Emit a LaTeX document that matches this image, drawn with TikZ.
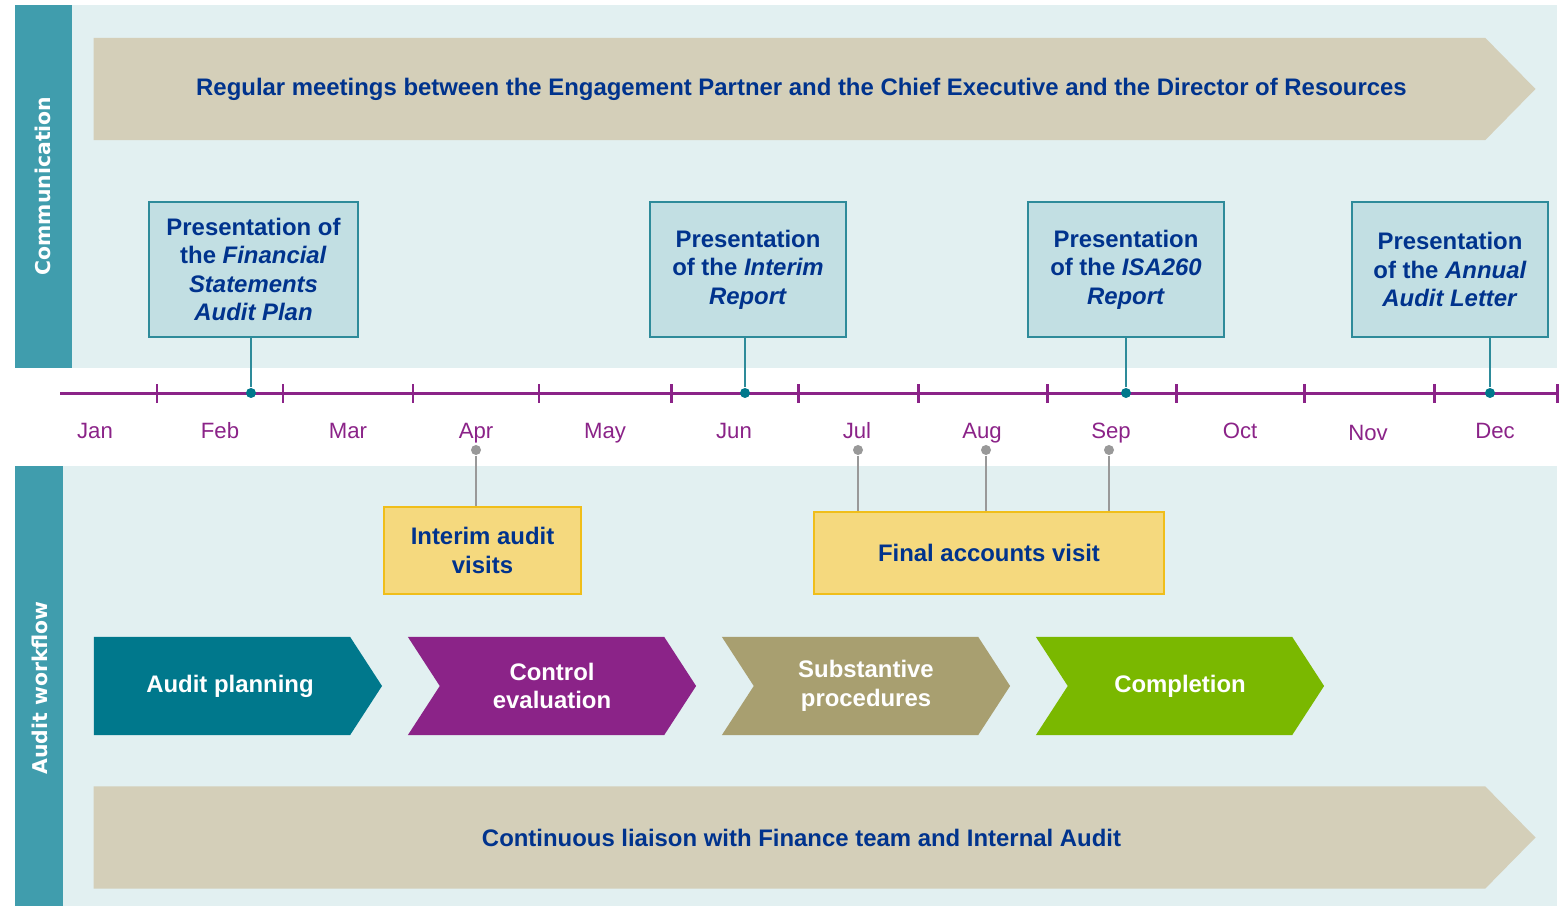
\documentclass[tikz,border=0pt]{standalone}
\usepackage{fontspec}
\setmainfont{Liberation Sans}
\newfontfamily\sidefont{DejaVu Sans}
\usetikzlibrary{shapes.symbols}

\definecolor{sideteal}{RGB}{64,157,173}
\definecolor{bandlight}{RGB}{226,240,241}
\definecolor{tanarrow}{RGB}{212,207,185}
\definecolor{navytext}{RGB}{0,51,141}
\definecolor{linepurple}{RGB}{139,35,136}
\definecolor{presfill}{RGB}{194,223,227}
\definecolor{presdraw}{RGB}{46,139,154}
\definecolor{visitfill}{RGB}{245,217,126}
\definecolor{visitdraw}{RGB}{240,190,26}
\definecolor{chevteal}{RGB}{0,120,140}
\definecolor{chevkhaki}{RGB}{168,159,112}
\definecolor{chevgreen}{RGB}{122,184,0}
\definecolor{dotgrey}{RGB}{153,153,153}

\begin{document}
\begin{tikzpicture}[x=0.01cm,y=0.01cm]
	\tikzset{
		bigarrow/.style={signal, signal to=east, fill=tanarrow, inner sep=0pt,
			minimum width=14.41cm, minimum height=1.02cm, signal pointer angle=91,
			text=navytext, font=\fontsize{6.8}{8}\selectfont\bfseries},
		presbox/.style={draw=presdraw, fill=presfill, line width=0.4pt, inner sep=0pt,
			minimum height=1.35cm, align=center, text=navytext,
			font=\fontsize{6.8}{8.1}\selectfont\bfseries},
		visitbox/.style={draw=visitdraw, fill=visitfill, line width=0.5pt, inner sep=0pt,
			align=center, text=navytext, font=\fontsize{6.8}{8.1}\selectfont\bfseries},
		chevron/.style={signal, signal to=east, inner sep=0pt, minimum width=2.88cm,
			minimum height=0.98cm, signal pointer angle=114, text=white, align=center,
			font=\fontsize{6.8}{8.1}\selectfont\bfseries},
		month/.style={anchor=base, text=linepurple, font=\fontsize{6.3}{7}\selectfont},
		tdot/.style={circle, fill=chevteal, inner sep=0pt, minimum size=0.1cm},
		gdot/.style={circle, fill=dotgrey, inner sep=0pt, minimum size=0.1cm},
		sidelabel/.style={rotate=90, text=white, font=\sidefont\fontsize{5.8}{7}\selectfont\bfseries}
	}
	\useasboundingbox[fill=white] (0,0) rectangle (1560,906);

	% Bands
	\fill[bandlight] (72,538) rectangle (1557,901);
	\fill[sideteal] (15,538) rectangle (72,901);
	\fill[bandlight] (63,0) rectangle (1557,440);
	\fill[sideteal] (15,0) rectangle (63,440);
	\node[sidelabel] (comm) at (43,720) {Communication};
	\node[sidelabel] (work) at (40,218) {Audit workflow};

	\node[bigarrow] (meet) at (789.5,817) {\hspace*{0.24cm}Regular meetings between the Engagement Partner and the Chief Executive and the Director of Resources};

	% Time line
	\draw[linepurple, line width=0.85pt] (60,512) -- (1557,512);
	\foreach \x in {157,283,413,539,671,798,918,1047,1176,1304,1434,1557}
		\draw[linepurple, line width=0.85pt] (\x,503) -- (\x,522);
	\foreach \x/\m in {95/Jan,220/Feb,348/Mar,476/Apr,605/May,734/Jun,857/Jul,982/Aug,1111/Sep,1240/Oct,1495/Dec}
		\node[month] (m\m) at (\x,467) {\m};
	\node[month] (mNov) at (1368,465) {Nov};

	% Presentations
	\node[presbox, minimum width=2.09cm] (pPlan) at (253.5,636.5) {Presentation of\\the \textit{Financial}\\\textit{Statements}\\\textit{Audit Plan}};
	\node[presbox, minimum width=1.96cm] (pInterim) at (748,636.5) {Presentation\\of the \textit{Interim}\\\textit{Report}};
	\node[presbox, minimum width=1.96cm] (pIsa) at (1126,636.5) {Presentation\\of the \textit{ISA260}\\\textit{Report}};
	\node[presbox, minimum width=1.96cm] (pLetter) at (1450,636.5) {Presentation\\of the \textit{Annual}\\\textit{Audit Letter}};

	\node[tdot] (dFeb) at (251,513) {};
	\node[tdot] (dJun) at (745,513) {};
	\node[tdot] (dSep) at (1126,513) {};
	\node[tdot] (dDec) at (1490,513) {};
	\draw[presdraw, line width=0.5pt] (dFeb |- pPlan.south) -- (dFeb);
	\draw[presdraw, line width=0.5pt] (dJun |- pInterim.south) -- (dJun);
	\draw[presdraw, line width=0.5pt] (dSep |- pIsa.south) -- (dSep);
	\draw[presdraw, line width=0.5pt] (dDec |- pLetter.south) -- (dDec);

	% Visits
	\node[visitbox, minimum width=1.97cm, minimum height=0.87cm] (vInterim) at (482.5,355.5) {Interim audit\\visits};
	\node[visitbox, minimum width=3.5cm, minimum height=0.82cm] (vFinal) at (989,353) {Final accounts visit};

	\node[gdot] (gApr) at (476,456) {};
	\node[gdot] (gJul) at (858,456) {};
	\node[gdot] (gAug) at (986,456) {};
	\node[gdot] (gSep) at (1109,456) {};
	\draw[dotgrey, line width=0.5pt] (gApr) -- (gApr |- vInterim.north);
	\draw[dotgrey, line width=0.5pt] (gJul) -- (gJul |- vFinal.north);
	\draw[dotgrey, line width=0.5pt] (gAug) -- (gAug |- vFinal.north);
	\draw[dotgrey, line width=0.5pt] (gSep) -- (gSep |- vFinal.north);

	% Workflow
	\node[chevron, fill=chevteal] (plan) at (222,220) {\hspace*{0.16cm}Audit planning};
	\node[chevron, fill=linepurple, signal from=west] (ctrl) at (552,220) {Control\\evaluation};
	\node[chevron, fill=chevkhaki, signal from=west] (subst) at (866,220) {Substantive\\procedures};
	\node[chevron, fill=chevgreen, signal from=west] (compl) at (1180,220) {Completion};

	\node[bigarrow] (liaise) at (789.5,68.5) {\hspace*{0.24cm}Continuous liaison with Finance team and Internal Audit};
\end{tikzpicture}
\end{document}
